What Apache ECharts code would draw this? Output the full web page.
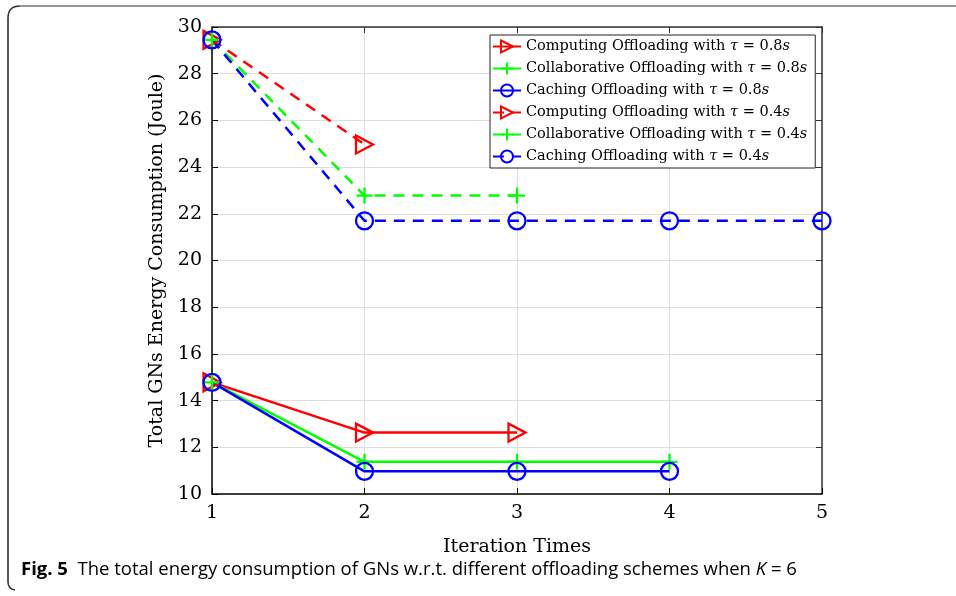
<!DOCTYPE html>
<html><head><meta charset="utf-8">
<script src="https://cdn.jsdelivr.net/npm/echarts@6/dist/echarts.min.js"></script>
<style>html,body{margin:0;padding:0;background:#fff}#c{width:956px;height:596px}</style>
</head><body><div id="c"></div>
<script>
// ---- data ----
const xTicks = [1, 2, 3, 4, 5];
const seriesNames = [
  'Computing Offloading with {i|τ} = 0.8{i|s}',
  'Collaborative Offloading with {i|τ} = 0.8{i|s}',
  'Caching Offloading with {i|τ} = 0.8{i|s}',
  'Computing Offloading with {i|τ} = 0.4{i|s}',
  'Collaborative Offloading with {i|τ} = 0.4{i|s}',
  'Caching Offloading with {i|τ} = 0.4{i|s}'
];
const compX08 = [1, 2, 3];
const compY08 = [14.78, 12.63, 12.63];
const collX08 = [1, 2, 3, 4];
const collY08 = [14.78, 11.38, 11.38, 11.38];
const cachX08 = [1, 2, 3, 4];
const cachY08 = [14.78, 10.97, 10.97, 10.97];
const compX04 = [1, 2];
const compY04 = [29.45, 24.97];
const collX04 = [1, 2, 3];
const collY04 = [29.45, 22.78, 22.78];
const cachX04 = [1, 2, 3, 4, 5];
const cachY04 = [29.45, 21.7, 21.7, 21.7, 21.7];

const pairs = (xs, ys) => xs.map((x, i) => [x, ys[i]]);

const SERIF = 'DejaVu Serif';
const triRight = 'path://M0,0 L10,5 L0,10 Z';
const plus = 'path://M5,0 L5,10 M0,5 L10,5';

function mk(name, data, color, symbol, size, dashed) {
  return {
    name, type: 'line', data, clip: false, z: 3,
    symbol, symbolSize: size, showAllSymbol: true,
    lineStyle: { color, width: 2.5, type: dashed ? [11, 8] : 'solid' },
    itemStyle: { color: 'rgba(255,255,255,0)', borderColor: color, borderWidth: 2.3 },
    emphasis: { disabled: true }
  };
}

const RED = '#ff0000', GREEN = '#00ff00', BLUE = '#0000ff';
const series = [
  mk(seriesNames[0], pairs(compX08, compY08), RED, triRight, [17, 18], false),
  mk(seriesNames[1], pairs(collX08, collY08), GREEN, plus, [16, 16], false),
  mk(seriesNames[2], pairs(cachX08, cachY08), BLUE, 'circle', 17, false),
  mk(seriesNames[3], pairs(compX04, compY04), RED, triRight, [17, 18], true),
  mk(seriesNames[4], pairs(collX04, collY04), GREEN, plus, [16, 16], true),
  mk(seriesNames[5], pairs(cachX04, cachY04), BLUE, 'circle', 17, true)
];

const chart = echarts.init(document.getElementById('c'), null, { renderer: 'canvas' });
chart.setOption({
  animation: false,
  backgroundColor: '#fff',
  grid: { left: 212, right: 134, top: 27, bottom: 102, containLabel: false },
  xAxis: [{
    type: 'value', min: 1, max: 5, interval: 1,
    name: 'Iteration Times', nameLocation: 'middle', nameGap: 44,
    nameTextStyle: { fontFamily: SERIF, fontSize: 19, color: '#000' },
    axisLine: { lineStyle: { color: '#000', width: 1.5 } },
    axisTick: { inside: true, length: 6, lineStyle: { color: '#000' } },
    axisLabel: { fontFamily: SERIF, fontSize: 19, color: '#000', margin: 10,
      formatter: v => xTicks.includes(v) ? String(v) : '' },
    splitLine: { show: true, lineStyle: { color: '#dedede', width: 1 } }
  }, {
    type: 'value', min: 1, max: 5, interval: 1, position: 'top',
    axisLine: { lineStyle: { color: '#333', width: 1.5 } },
    axisTick: { inside: true, length: 6, lineStyle: { color: '#333' } },
    axisLabel: { show: false }, splitLine: { show: false }
  }],
  yAxis: [{
    type: 'value', min: 10, max: 30, interval: 2,
    name: 'Total GNs Energy Consumption (Joule)', nameLocation: 'middle', nameGap: 44,
    nameTextStyle: { fontFamily: SERIF, fontSize: 19, color: '#000' },
    axisLine: { show: true, lineStyle: { color: '#000', width: 1.5 } },
    axisTick: { show: true, inside: true, length: 6, lineStyle: { color: '#000' } },
    axisLabel: { fontFamily: SERIF, fontSize: 19, color: '#000', margin: 10 },
    splitLine: { show: true, lineStyle: { color: '#dedede', width: 1 } }
  }, {
    type: 'value', min: 10, max: 30, interval: 2, position: 'right',
    axisLine: { show: true, lineStyle: { color: '#333', width: 1.5 } },
    axisTick: { show: true, inside: true, length: 6, lineStyle: { color: '#333' } },
    axisLabel: { show: false }, splitLine: { show: false }
  }],
  legend: {
    orient: 'vertical', left: 490, top: 35,
    backgroundColor: '#fff', borderColor: '#222', borderWidth: 1,
    padding: [4, 8, 4, 2], itemGap: 7, itemWidth: 28, itemHeight: 15,
    data: seriesNames,
    textStyle: { fontFamily: SERIF, fontSize: 14.5, color: '#000',
      rich: { i: { fontFamily: SERIF, fontStyle: 'italic', fontSize: 14.5, color: '#000' } } },
    formatter: n => n
  },
  graphic: [
    { type: 'line', z: 100, shape: { x1: 20, y1: 6, x2: 956, y2: 6 },
      style: { stroke: '#777', lineWidth: 1.5 } },
    { type: 'bezierCurve', z: 100, shape: { x1: 8, y1: 18, x2: 20, y2: 6, cpx1: 8, cpy1: 6 },
      style: { stroke: '#333', lineWidth: 1.5, fill: null } },
    { type: 'line', z: 100, shape: { x1: 8, y1: 18, x2: 8, y2: 582 },
      style: { stroke: '#222', lineWidth: 1.5 } },
    { type: 'bezierCurve', z: 100, shape: { x1: 8, y1: 582, x2: 15, y2: 590, cpx1: 8, cpy1: 589 },
      style: { stroke: '#333', lineWidth: 1.5, fill: null } },
    { type: 'text', left: 21, top: 560, z: 100,
      style: {
        text: '{b|Fig. 5}  The total energy consumption of GNs w.r.t. different offloading schemes when {it|K} = 6',
        font: '18.5px "Open Sans"', fill: '#000',
        rich: {
          b: { fontFamily: 'Open Sans', fontWeight: 'bold', fontSize: 18.5, fill: '#000' },
          it: { fontFamily: 'Open Sans', fontStyle: 'italic', fontSize: 18.5, fill: '#000' }
        }
      } }
  ],
  series
});
</script></body></html>
